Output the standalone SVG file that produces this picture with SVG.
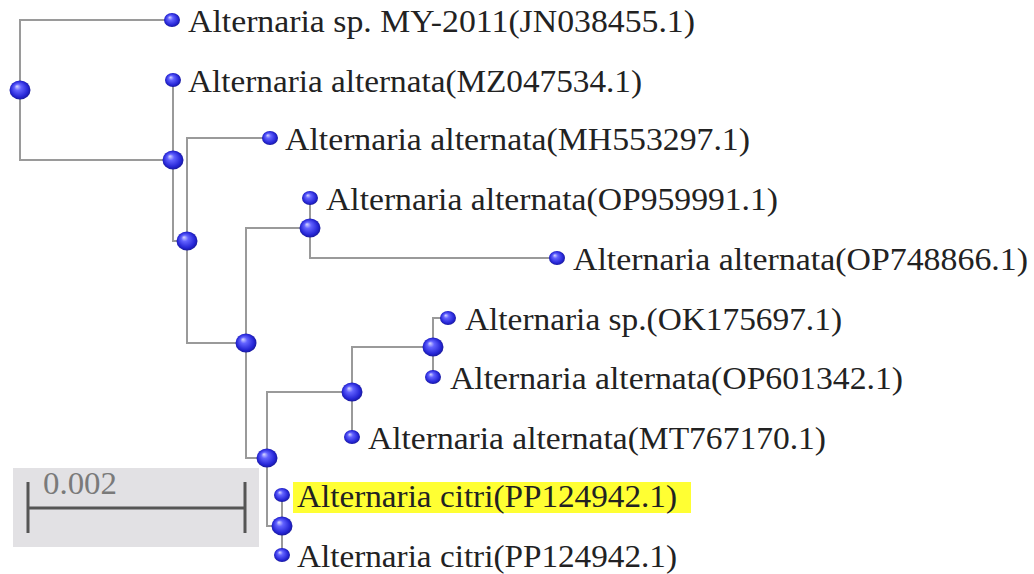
<svg xmlns="http://www.w3.org/2000/svg" width="1034" height="574" viewBox="0 0 1034 574">
<defs>
<radialGradient id="ball" cx="50%" cy="50%" r="55%" fx="35%" fy="30%">
<stop offset="0%" stop-color="#d8d8ff"/>
<stop offset="30%" stop-color="#6262ff"/>
<stop offset="75%" stop-color="#2626d6"/>
<stop offset="100%" stop-color="#14148a"/>
</radialGradient>
<style>
.br{fill:none;stroke:#9a9a9a;stroke-width:2}
.lf{fill:url(#ball)}
text{font-family:"Liberation Serif","Times New Roman",Times,Tinos,"Nimbus Roman","Nimbus Roman No9 L","Noto Serif","DejaVu Serif","FreeSerif",serif}
.lb{font-size:31px;fill:#222}
.sc{font-size:31px;fill:#7a7a7a}
</style>
</defs>
<rect width="1034" height="574" fill="#fff"/>
<g id="scale">
<rect x="13" y="468" width="246" height="79" fill="#e2e1e4"/>
<text class="sc" x="43" y="494" textLength="74" lengthAdjust="spacingAndGlyphs">0.002</text>
<path d="M28,508 H245 M28,482 V533 M245,482 V533" stroke="#555" stroke-width="3" fill="none"/>
</g>
<g id="connectors">
<path class="br" d="M172,20 H20 V160 H173"/>
<path class="br" d="M173,80 V241 H187"/>
<path class="br" d="M270,138 H187 V343 H246"/>
<path class="br" d="M310,228 H246 V458 H267"/>
<path class="br" d="M310,198 V258 H557"/>
<path class="br" d="M352,392 H267 V526 H282"/>
<path class="br" d="M433,347 H352 V437"/>
<path class="br" d="M448,318 H433 V377"/>
<path class="br" d="M282,495 V555"/>
</g>
<g id="internal-nodes">
<ellipse id="nR" class="lf" cx="20" cy="90" rx="10.5" ry="9.5"/>
<ellipse id="nA" class="lf" cx="173" cy="160" rx="10.5" ry="9.5"/>
<ellipse id="nB" class="lf" cx="187" cy="241" rx="10.5" ry="9.5"/>
<ellipse id="nC" class="lf" cx="246" cy="343" rx="10.5" ry="9.5"/>
<ellipse id="nD" class="lf" cx="310" cy="228" rx="10.5" ry="9.5"/>
<ellipse id="nE" class="lf" cx="267" cy="458" rx="10.5" ry="9.5"/>
<ellipse id="nF" class="lf" cx="352" cy="392" rx="10.5" ry="9.5"/>
<ellipse id="nG" class="lf" cx="433" cy="347" rx="10.5" ry="9.5"/>
<ellipse id="nH" class="lf" cx="282" cy="526" rx="10.5" ry="9.5"/>
</g>
<g id="labels">
<g id="leaf1"><ellipse class="lf" cx="172" cy="20" rx="8" ry="7"/><text class="lb" x="188" y="32" textLength="507" lengthAdjust="spacingAndGlyphs">Alternaria sp. MY-2011(JN038455.1)</text></g>
<g id="leaf2"><ellipse class="lf" cx="173" cy="80" rx="8" ry="7"/><text class="lb" x="188" y="92" textLength="454" lengthAdjust="spacingAndGlyphs">Alternaria alternata(MZ047534.1)</text></g>
<g id="leaf3"><ellipse class="lf" cx="270" cy="138" rx="8" ry="7"/><text class="lb" x="285" y="150" textLength="465" lengthAdjust="spacingAndGlyphs">Alternaria alternata(MH553297.1)</text></g>
<g id="leaf4"><ellipse class="lf" cx="310" cy="198" rx="8" ry="7"/><text class="lb" x="326" y="210" textLength="452" lengthAdjust="spacingAndGlyphs">Alternaria alternata(OP959991.1)</text></g>
<g id="leaf5"><ellipse class="lf" cx="557" cy="258" rx="8" ry="7"/><text class="lb" x="573" y="270" textLength="455" lengthAdjust="spacingAndGlyphs">Alternaria alternata(OP748866.1)</text></g>
<g id="leaf6"><ellipse class="lf" cx="448" cy="318" rx="8" ry="7"/><text class="lb" x="465" y="330" textLength="377" lengthAdjust="spacingAndGlyphs">Alternaria sp.(OK175697.1)</text></g>
<g id="leaf7"><ellipse class="lf" cx="433" cy="377" rx="8" ry="7"/><text class="lb" x="450" y="389" textLength="453" lengthAdjust="spacingAndGlyphs">Alternaria alternata(OP601342.1)</text></g>
<g id="leaf8"><ellipse class="lf" cx="352" cy="437" rx="8" ry="7"/><text class="lb" x="368" y="449" textLength="458" lengthAdjust="spacingAndGlyphs">Alternaria alternata(MT767170.1)</text></g>
<g id="leaf9"><rect x="293" y="482" width="398" height="31" fill="#ffff33"/><ellipse class="lf" cx="282" cy="495" rx="8" ry="7"/><text class="lb" x="297" y="507" textLength="380" lengthAdjust="spacingAndGlyphs">Alternaria citri(PP124942.1)</text></g>
<g id="leaf10"><ellipse class="lf" cx="282" cy="555" rx="8" ry="7"/><text class="lb" x="297" y="567" textLength="380" lengthAdjust="spacingAndGlyphs">Alternaria citri(PP124942.1)</text></g>
</g>
</svg>
